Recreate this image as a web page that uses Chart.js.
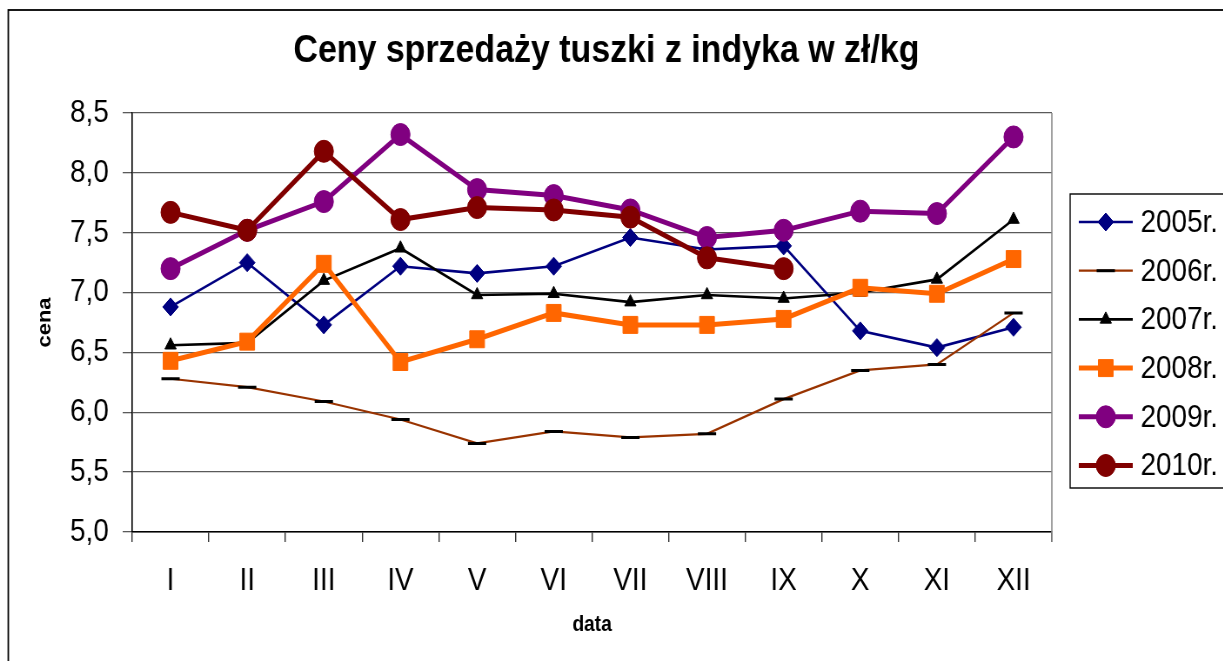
<!DOCTYPE html>
<html lang="pl">
<head>
<meta charset="utf-8">
<title>Ceny sprzedaży tuszki z indyka</title>
<script src="https://cdn.jsdelivr.net/npm/chart.js@4/dist/chart.umd.min.js"></script>
<style>
    html, body { margin: 0; padding: 0; background: #fff; overflow: hidden; }
    /* oryginał jest ściśnięty w poziomie, więc rysujemy szerzej i ściskamy */
    #wykres { display: block; transform: scaleX(0.87); transform-origin: 0 0; }
</style>
</head>
<body>
<canvas id="wykres" width="1406" height="661"></canvas>
<script>
// =====================================================
// Ceny sprzedaży tuszki z indyka w zł/kg (2005-2010)
// =====================================================

const chartTitle = 'Ceny sprzedaży tuszki z indyka w zł/kg';
const miesiace = ['I', 'II', 'III', 'IV', 'V', 'VI', 'VII', 'VIII', 'IX', 'X', 'XI', 'XII'];
const lata = ['2005r.', '2006r.', '2007r.', '2008r.', '2009r.', '2010r.'];

const ceny2005 = [6.88, 7.25, 6.73, 7.22, 7.16, 7.22, 7.46, 7.36, 7.39, 6.68, 6.54, 6.71];
const ceny2006 = [6.28, 6.21, 6.09, 5.94, 5.74, 5.84, 5.79, 5.82, 6.11, 6.35, 6.40, 6.83];
const ceny2007 = [6.56, 6.58, 7.10, 7.37, 6.98, 6.99, 6.92, 6.98, 6.95, 7.00, 7.11, 7.61];
const ceny2008 = [6.43, 6.59, 7.24, 6.42, 6.61, 6.83, 6.73, 6.73, 6.78, 7.04, 6.99, 7.28];
const ceny2009 = [7.20, 7.52, 7.76, 8.32, 7.86, 7.81, 7.69, 7.46, 7.52, 7.68, 7.66, 8.30];
const ceny2010 = [7.67, 7.52, 8.18, 7.61, 7.71, 7.69, 7.63, 7.29, 7.20, null, null, null];

const yMin = 5.0;
const yMax = 8.5;
const yKrok = 0.5;

const FONT = '"Liberation Sans", Arial, sans-serif';

function seria(idx, dane, kolor, grubosc, styl, promien, kolorZnacznika, gruboscZnacznika) {
    return {
        label: lata[idx],
        data: dane,
        order: lata.length - idx,
        borderColor: kolor,
        backgroundColor: kolorZnacznika || kolor,
        borderWidth: grubosc,
        pointStyle: styl,
        pointRadius: promien,
        pointHoverRadius: promien,
        pointBackgroundColor: kolorZnacznika || kolor,
        pointBorderColor: kolorZnacznika || kolor,
        pointBorderWidth: gruboscZnacznika || 1,
        tension: 0,
        fill: false,
        spanGaps: false
    };
}

function rysujZnacznik(ctx, ds, x, y) {
    const opts = {
        pointStyle: ds.pointStyle,
        radius: ds.pointRadius,
        rotation: 0,
        borderWidth: ds.pointBorderWidth
    };
    ctx.save();
    ctx.fillStyle = ds.pointBackgroundColor;
    ctx.strokeStyle = ds.pointBorderColor;
    ctx.lineWidth = ds.pointBorderWidth;
    if (Chart.helpers && Chart.helpers.drawPoint) {
        Chart.helpers.drawPoint(ctx, opts, x, y);
    } else {
        ctx.beginPath();
        ctx.arc(x, y, ds.pointRadius, 0, Math.PI * 2);
        ctx.fill();
    }
    ctx.restore();
}

const ozdoby = {
    id: 'ozdoby',
    beforeDraw(chart) {
        const ctx = chart.ctx;
        ctx.save();
        ctx.fillStyle = '#fff';
        ctx.fillRect(0, 0, chart.width, chart.height);
        ctx.restore();
    },
    afterDraw(chart) {
        const ctx = chart.ctx;
        const a = chart.chartArea;
        ctx.save();

        // prawa krawędź obszaru wykresu
        ctx.strokeStyle = '#8a8a8a';
        ctx.lineWidth = 1.6;
        ctx.beginPath();
        ctx.moveTo(a.right, a.top);
        ctx.lineTo(a.right, a.bottom + 10);
        ctx.stroke();

        // ramka całego wykresu
        ctx.strokeStyle = '#000';
        ctx.lineWidth = 1.8;
        ctx.strokeRect(9.5, 10, 1600, 1000);

        // tytuł
        ctx.fillStyle = '#000';
        ctx.font = 'bold 39px ' + FONT;
        ctx.textAlign = 'center';
        ctx.textBaseline = 'alphabetic';
        ctx.fillText(chartTitle, 697, 62);

        // legenda
        ctx.strokeStyle = '#000';
        ctx.lineWidth = 1.4;
        ctx.strokeRect(1230, 194, 400, 294);
        ctx.font = '32px ' + FONT;
        ctx.textAlign = 'left';
        ctx.textBaseline = 'middle';
        chart.data.datasets.forEach(function(ds, i) {
            const y = 222 + i * 48.7;
            ctx.strokeStyle = ds.borderColor;
            ctx.lineWidth = ds.borderWidth;
            ctx.beginPath();
            ctx.moveTo(1240, y);
            ctx.lineTo(1302, y);
            ctx.stroke();
            rysujZnacznik(ctx, ds, 1271, y);
            ctx.fillStyle = '#000';
            ctx.fillText(ds.label, 1311, y + 1);
        });

        ctx.restore();
    }
};

document.addEventListener('DOMContentLoaded', function() {
    const ctx = document.getElementById('wykres').getContext('2d');

    new Chart(ctx, {
        type: 'line',
        data: {
            labels: miesiace,
            datasets: [
                seria(0, ceny2005, '#000080', 2.6, 'rectRot', 9),
                seria(1, ceny2006, '#993300', 2.2, 'line', 10.5, '#000', 3),
                seria(2, ceny2007, '#000000', 2.6, 'triangle', 7.5),
                seria(3, ceny2008, '#ff6600', 5, 'rect', 12),
                seria(4, ceny2009, '#800080', 5, 'circle', 11),
                seria(5, ceny2010, '#800000', 5, 'circle', 11)
            ]
        },
        options: {
            responsive: false,
            animation: false,
            devicePixelRatio: 1,
            layout: {
                padding: { left: 0, right: 197, top: 113, bottom: 0 }
            },
            plugins: {
                legend: { display: false },
                title: { display: false },
                tooltip: { enabled: false }
            },
            scales: {
                x: {
                    offset: true,
                    afterFit: function(scale) { scale.height = 129; },
                    border: { display: true, color: '#000', width: 1.6 },
                    grid: {
                        offset: true,
                        drawOnChartArea: false,
                        drawTicks: true,
                        tickLength: 10,
                        color: '#333',
                        lineWidth: 1.4
                    },
                    ticks: {
                        color: '#000',
                        padding: 20,
                        maxRotation: 0,
                        autoSkip: false,
                        font: { size: 32, family: FONT }
                    },
                    title: {
                        display: true,
                        text: 'data',
                        color: '#000',
                        font: { size: 22, weight: 'bold', family: FONT },
                        padding: { top: 0, bottom: 23 }
                    }
                },
                y: {
                    min: yMin,
                    max: yMax,
                    afterFit: function(scale) { scale.width = 152; },
                    border: { display: true, color: '#000', width: 1.6 },
                    grid: {
                        color: '#5a5a5a',
                        lineWidth: 1.3,
                        drawTicks: true,
                        tickLength: 11
                    },
                    ticks: {
                        stepSize: yKrok,
                        color: '#000',
                        padding: 16,
                        font: { size: 32, family: FONT },
                        callback: function(v) {
                            return v.toFixed(1).replace('.', ',');
                        }
                    },
                    title: {
                        display: true,
                        text: 'cena',
                        color: '#000',
                        font: { size: 22, weight: 'bold', family: FONT },
                        padding: { top: 39, bottom: 0 }
                    }
                }
            }
        },
        plugins: [ozdoby]
    });
});
</script>
</body>
</html>
